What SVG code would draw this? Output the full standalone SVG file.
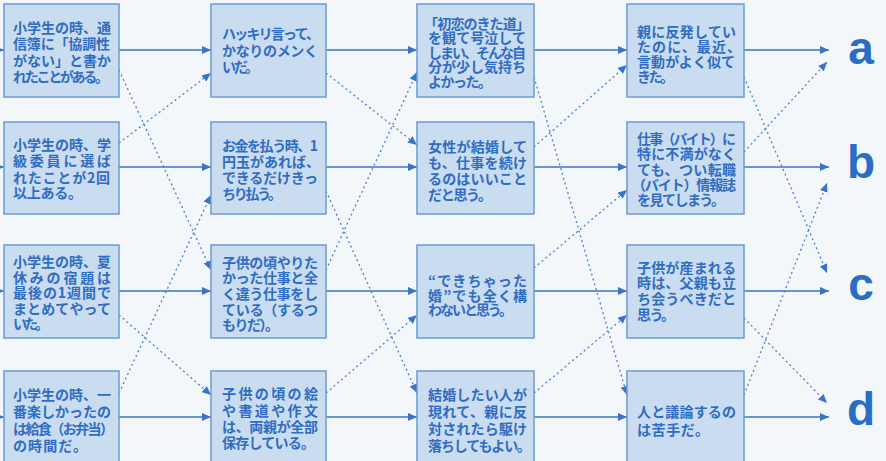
<svg xmlns="http://www.w3.org/2000/svg" width="886" height="461" viewBox="0 0 886 461">
<style>
.bg{fill:#f4f7fa}
.box{fill:#cadcef;stroke:#6b9bd5;stroke-width:1.5}
.t{font-family:"Noto Sans CJK JP","Noto Sans CJK SC",sans-serif;font-size:14px;font-weight:bold;fill:#2f6dc4}
.lbl{font-family:"Liberation Sans",Arial,sans-serif;font-size:46px;font-weight:bold;fill:#2a6dc5;text-anchor:middle}
.sol{stroke:#3a74c8;stroke-width:1.6;fill:none;marker-end:url(#ah)}
.dot{stroke:#4a80cc;stroke-width:1.3;fill:none;stroke-dasharray:2 3;marker-end:url(#ah)}
</style>
<defs>
<marker id="ah" markerUnits="userSpaceOnUse" markerWidth="9" markerHeight="8" refX="9" refY="4" orient="auto">
<path d="M0,0 L9,4 L0,8 z" fill="#3a74c8"/>
</marker>
</defs>
<rect class="bg" x="0" y="0" width="886" height="461"/>

<g id="connectors">
<line class="sol" x1="-5" y1="50" x2="4" y2="50"/>
<line class="sol" x1="-5" y1="167" x2="4" y2="167"/>
<line class="sol" x1="-5" y1="291" x2="4" y2="291"/>
<line class="sol" x1="-5" y1="417" x2="4" y2="417"/>
<line class="sol" x1="119" y1="50" x2="211" y2="50"/>
<line class="sol" x1="119" y1="167" x2="211" y2="167"/>
<line class="sol" x1="119" y1="291" x2="211" y2="291"/>
<line class="sol" x1="119" y1="417" x2="211" y2="417"/>
<line class="sol" x1="326" y1="50" x2="417" y2="50"/>
<line class="sol" x1="326" y1="167" x2="417" y2="167"/>
<line class="sol" x1="326" y1="291" x2="417" y2="291"/>
<line class="sol" x1="326" y1="417" x2="417" y2="417"/>
<line class="sol" x1="534" y1="50" x2="627" y2="50"/>
<line class="sol" x1="534" y1="167" x2="627" y2="167"/>
<line class="sol" x1="534" y1="291" x2="627" y2="291"/>
<line class="sol" x1="534" y1="417" x2="627" y2="417"/>
<line class="sol" x1="744" y1="50" x2="829" y2="50"/>
<line class="sol" x1="744" y1="167" x2="829" y2="167"/>
<line class="sol" x1="744" y1="291" x2="829" y2="291"/>
<line class="sol" x1="744" y1="417" x2="829" y2="417"/>

<line class="dot" x1="119" y1="70" x2="211" y2="270"/>
<line class="dot" x1="119" y1="143" x2="211" y2="73"/>
<line class="dot" x1="119" y1="393" x2="211" y2="195"/>
<line class="dot" x1="119" y1="315" x2="211" y2="395"/>
<line class="dot" x1="326" y1="73" x2="417" y2="145"/>
<line class="dot" x1="326" y1="270" x2="417" y2="72"/>
<line class="dot" x1="326" y1="191" x2="417" y2="393"/>
<line class="dot" x1="326" y1="393" x2="417" y2="315"/>
<line class="dot" x1="534" y1="77" x2="627" y2="395"/>
<line class="dot" x1="534" y1="147" x2="627" y2="65"/>
<line class="dot" x1="534" y1="268" x2="627" y2="190"/>
<line class="dot" x1="534" y1="393" x2="627" y2="315"/>
<line class="dot" x1="744" y1="77" x2="827" y2="273"/>
<line class="dot" x1="744" y1="152" x2="827" y2="62"/>
<line class="dot" x1="744" y1="395" x2="827" y2="183"/>
<line class="dot" x1="744" y1="318" x2="827" y2="403"/>
</g>

<g id="n-c1r1">
<rect class="box" x="4" y="4" width="115" height="93"/>
<text class="t"><tspan x="13" y="33" textLength="98" lengthAdjust="spacing">小学生の時、通</tspan><tspan x="13" y="49" textLength="97" lengthAdjust="spacing">信簿に「協調性</tspan><tspan x="13" y="66" textLength="98" lengthAdjust="spacing">がない」と書か</tspan><tspan x="13" y="82" textLength="96" lengthAdjust="spacing">れたことがある。</tspan></text>
</g>
<g id="n-c1r2">
<rect class="box" x="4" y="122" width="115" height="92"/>
<text class="t"><tspan x="13" y="150" textLength="98" lengthAdjust="spacing">小学生の時、学</tspan><tspan x="13" y="166" textLength="98" lengthAdjust="spacing">級委員に選ば</tspan><tspan x="13" y="183" textLength="97" lengthAdjust="spacing">れたことが2回</tspan><tspan x="13" y="198" textLength="69" lengthAdjust="spacing">以上ある。</tspan></text>
</g>
<g id="n-c1r3">
<rect class="box" x="4" y="245" width="115" height="93"/>
<text class="t"><tspan x="13" y="267" textLength="98" lengthAdjust="spacing">小学生の時、夏</tspan><tspan x="13" y="283" textLength="98" lengthAdjust="spacing">休みの宿題は</tspan><tspan x="13" y="298" textLength="98" lengthAdjust="spacing">最後の1週間で</tspan><tspan x="13" y="314" textLength="98" lengthAdjust="spacing">まとめてやって</tspan><tspan x="13" y="329" textLength="36" lengthAdjust="spacing">いた。</tspan></text>
</g>
<g id="n-c1r4">
<rect class="box" x="4" y="371" width="115" height="96"/>
<text class="t"><tspan x="13" y="400" textLength="98" lengthAdjust="spacing">小学生の時、一</tspan><tspan x="13" y="417" textLength="98" lengthAdjust="spacing">番楽しかったの</tspan><tspan x="13" y="434" textLength="101" lengthAdjust="spacing">は給食（お弁当）</tspan><tspan x="13" y="451" textLength="74" lengthAdjust="spacing">の時間だ。</tspan></text>
</g>

<g id="n-c2r1">
<rect class="box" x="211" y="4" width="115" height="93"/>
<text class="t"><tspan x="222" y="39" textLength="98" lengthAdjust="spacing">ハッキリ言って、</tspan><tspan x="222" y="56" textLength="96" lengthAdjust="spacing">かなりのメンく</tspan><tspan x="222" y="72" textLength="37" lengthAdjust="spacing">いだ。</tspan></text>
</g>
<g id="n-c2r2">
<rect class="box" x="211" y="122" width="115" height="92"/>
<text class="t"><tspan x="222" y="151" textLength="96" lengthAdjust="spacing">お金を払う時、1</tspan><tspan x="222" y="167" textLength="98" lengthAdjust="spacing">円玉があれば、</tspan><tspan x="222" y="183" textLength="96" lengthAdjust="spacing">できるだけきっ</tspan><tspan x="222" y="199" textLength="60" lengthAdjust="spacing">ちり払う。</tspan></text>
</g>
<g id="n-c2r3">
<rect class="box" x="211" y="245" width="115" height="93"/>
<text class="t"><tspan x="222" y="268" textLength="96" lengthAdjust="spacing">子供の頃やりた</tspan><tspan x="222" y="283" textLength="96" lengthAdjust="spacing">かった仕事と全</tspan><tspan x="222" y="299" textLength="96" lengthAdjust="spacing">く違う仕事をし</tspan><tspan x="222" y="315" textLength="96" lengthAdjust="spacing">ている（するつ</tspan><tspan x="222" y="330" textLength="57" lengthAdjust="spacing">もりだ）。</tspan></text>
</g>
<g id="n-c2r4">
<rect class="box" x="211" y="371" width="115" height="96"/>
<text class="t"><tspan x="222" y="399" textLength="96" lengthAdjust="spacing">子供の頃の絵</tspan><tspan x="222" y="416" textLength="96" lengthAdjust="spacing">や書道や作文</tspan><tspan x="222" y="432" textLength="96" lengthAdjust="spacing">は、両親が全部</tspan><tspan x="222" y="448" textLength="93" lengthAdjust="spacing">保存している。</tspan></text>
</g>

<g id="n-c3r1">
<rect class="box" x="417" y="4" width="117" height="93"/>
<text class="t"><tspan x="424" y="29" textLength="106" lengthAdjust="spacing">「初恋のきた道」</tspan><tspan x="428" y="43" textLength="98" lengthAdjust="spacing">を観て号泣して</tspan><tspan x="428" y="58" textLength="98" lengthAdjust="spacing">しまい、そんな自</tspan><tspan x="428" y="72" textLength="98" lengthAdjust="spacing">分が少し気持ち</tspan><tspan x="428" y="87" textLength="64" lengthAdjust="spacing">よかった。</tspan></text>
</g>
<g id="n-c3r2">
<rect class="box" x="417" y="122" width="117" height="92"/>
<text class="t"><tspan x="428" y="152" textLength="99" lengthAdjust="spacing">女性が結婚して</tspan><tspan x="428" y="168" textLength="99" lengthAdjust="spacing">も、仕事を続け</tspan><tspan x="428" y="184" textLength="99" lengthAdjust="spacing">るのはいいこと</tspan><tspan x="428" y="200" textLength="64" lengthAdjust="spacing">だと思う。</tspan></text>
</g>
<g id="n-c3r3">
<rect class="box" x="417" y="245" width="117" height="93"/>
<text class="t"><tspan x="428" y="286" textLength="99" lengthAdjust="spacing">“できちゃった</tspan><tspan x="428" y="301" textLength="99" lengthAdjust="spacing">婚”でも全く構</tspan><tspan x="428" y="315" textLength="85" lengthAdjust="spacing">わないと思う。</tspan></text>
</g>
<g id="n-c3r4">
<rect class="box" x="417" y="371" width="117" height="96"/>
<text class="t"><tspan x="428" y="400" textLength="99" lengthAdjust="spacing">結婚したい人が</tspan><tspan x="428" y="417" textLength="99" lengthAdjust="spacing">現れて、親に反</tspan><tspan x="428" y="434" textLength="99" lengthAdjust="spacing">対されたら駆け</tspan><tspan x="428" y="451" textLength="103" lengthAdjust="spacing">落ちしてもよい。</tspan></text>
</g>

<g id="n-c4r1">
<rect class="box" x="627" y="4" width="117" height="93"/>
<text class="t"><tspan x="637" y="37" textLength="99" lengthAdjust="spacing">親に反発してい</tspan><tspan x="637" y="52" textLength="104" lengthAdjust="spacing">たのに、最近、</tspan><tspan x="637" y="67" textLength="98" lengthAdjust="spacing">言動がよく似て</tspan><tspan x="637" y="82" textLength="37" lengthAdjust="spacing">きた。</tspan></text>
</g>
<g id="n-c4r2">
<rect class="box" x="627" y="122" width="117" height="92"/>
<text class="t"><tspan x="637" y="144" textLength="99" lengthAdjust="spacing">仕事（バイト）に</tspan><tspan x="637" y="159" textLength="99" lengthAdjust="spacing">特に不満がなく</tspan><tspan x="637" y="175" textLength="99" lengthAdjust="spacing">ても、つい転職</tspan><tspan x="632" y="190" textLength="104" lengthAdjust="spacing">（バイト）情報誌</tspan><tspan x="637" y="205" textLength="88" lengthAdjust="spacing">を見てしまう。</tspan></text>
</g>
<g id="n-c4r3">
<rect class="box" x="627" y="245" width="117" height="93"/>
<text class="t"><tspan x="637" y="273" textLength="99" lengthAdjust="spacing">子供が産まれる</tspan><tspan x="637" y="288" textLength="99" lengthAdjust="spacing">時は、父親も立</tspan><tspan x="637" y="304" textLength="99" lengthAdjust="spacing">ち会うべきだと</tspan><tspan x="637" y="320" textLength="38" lengthAdjust="spacing">思う。</tspan></text>
</g>
<g id="n-c4r4">
<rect class="box" x="627" y="371" width="117" height="96"/>
<text class="t"><tspan x="637" y="417" textLength="99" lengthAdjust="spacing">人と議論するの</tspan><tspan x="637" y="435" textLength="72" lengthAdjust="spacing">は苦手だ。</tspan></text>
</g>

<g id="n-a"><text class="lbl" x="861" y="64">a</text></g>
<g id="n-b"><text class="lbl" x="861" y="178">b</text></g>
<g id="n-c"><text class="lbl" x="861" y="300">c</text></g>
<g id="n-d"><text class="lbl" x="861" y="425">d</text></g>
</svg>
